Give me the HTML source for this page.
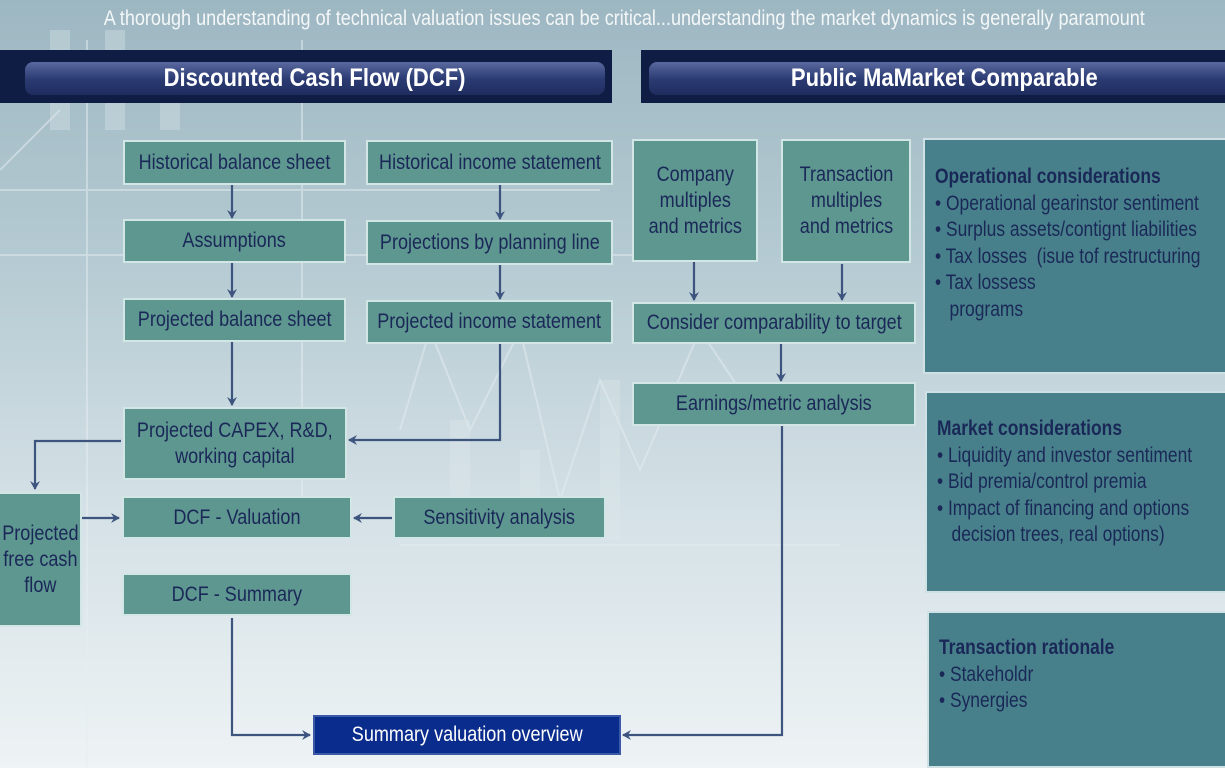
<!DOCTYPE html>
<html style="width:1225px;height:768px;overflow:hidden"><head><meta charset="utf-8"><style>
*{margin:0;padding:0;box-sizing:border-box}
body{width:1225px;height:768px;overflow:hidden;position:relative;font-family:"Liberation Sans",sans-serif;
background:linear-gradient(180deg,#9db7c2 0%,#b6cbd3 35%,#d3e0e5 65%,#eef3f5 100%)}
.b{position:absolute;background:#5e9690;border:2px solid #d3e6e6;color:#1a2858;display:flex;align-items:center;justify-content:center;text-align:center;font-size:21px;line-height:26px}
.b span,.t span{display:inline-block;white-space:nowrap;transform:scaleX(.86)}
.p{position:absolute;background:#47808a;border:2px solid #cfe1e4;color:#1a2858;font-size:21px;line-height:26.5px;padding-left:10px;overflow:hidden}
.p .in{width:420px;transform:scaleX(.83);transform-origin:0 0;white-space:nowrap}
.p h{display:block;font-weight:bold}
.hd{position:absolute;top:50px;height:53px;background:#0f1c44}
.hd div{position:absolute;top:12px;height:33px;background:linear-gradient(180deg,#5a6aa0,#2c3c74 50%,#1e2c5e);border-radius:8px;color:#fff;font-weight:bold;font-size:25px;line-height:33px;text-align:center}
.hd div span{display:inline-block;transform:scaleX(.88)}
svg{position:absolute;left:0;top:0}
</style></head><body>
<svg width="1225" height="768">
<g stroke="#e6eef1" stroke-width="2" fill="none" opacity=".5">
<line x1="0" y1="190" x2="600" y2="190"/><line x1="0" y1="255" x2="640" y2="255"/><line x1="87" y1="40" x2="87" y2="768"/><line x1="302" y1="40" x2="302" y2="500"/><line x1="400" y1="545" x2="840" y2="545"/><line x1="0" y1="170" x2="60" y2="110"/>
<polyline points="400,430 430,330 470,430 520,330 560,500 600,380 640,470 700,330 760,420"/>
</g>
<g fill="#dfe9ec" opacity=".35"><rect x="50" y="30" width="20" height="100"/><rect x="105" y="30" width="20" height="100"/><rect x="160" y="90" width="20" height="40"/><rect x="450" y="420" width="20" height="120"/><rect x="520" y="450" width="20" height="90"/><rect x="600" y="380" width="20" height="160"/></g>
<defs><marker id="a" markerWidth="10" markerHeight="10" refX="8" refY="5" orient="auto" markerUnits="userSpaceOnUse"><path d="M0,0 L9,5 L0,10 L3,5z" fill="#3d557e"/></marker></defs>
<g stroke="#3d557e" stroke-width="2.2" fill="none" marker-end="url(#a)">
<line x1="232" y1="185" x2="232" y2="218"/><line x1="232" y1="263" x2="232" y2="297"/><line x1="232" y1="342" x2="232" y2="405"/>
<line x1="500" y1="185" x2="500" y2="219"/><line x1="500" y1="265" x2="500" y2="299"/>
<polyline points="500,344 500,440 349,440"/>
<polyline points="121,441 35,441 35,489"/>
<line x1="82" y1="518" x2="119" y2="518"/><line x1="392" y1="518" x2="354" y2="518"/>
<polyline points="232,618 232,735 310,735"/>
<polyline points="782,426 782,735 623,735"/>
<line x1="694" y1="262" x2="694" y2="300"/><line x1="842" y1="264" x2="842" y2="300"/><line x1="781" y1="344" x2="781" y2="381"/>
</g>
</svg>
<div class="t" style="position:absolute;top:7px;left:0;width:1248px;text-align:center;color:#f4f7f8;font-size:21px"><span>A thorough understanding of technical valuation issues can be critical...understanding the market dynamics is generally paramount</span></div>
<div class="hd" style="left:0;width:612px"><div style="left:25px;width:580px"><span>Discounted Cash Flow (DCF)</span></div></div>
<div class="hd" style="left:641px;width:584px"><div style="left:8px;width:590px"><span>Public MaMarket Comparable</span></div></div>
<div class="b" style="left:123px;top:140px;width:223px;height:45px"><span>Historical balance sheet</span></div>
<div class="b" style="left:366px;top:140px;width:247px;height:45px"><span>Historical income statement</span></div>
<div class="b" style="left:123px;top:219px;width:223px;height:44px"><span>Assumptions</span></div>
<div class="b" style="left:366px;top:220px;width:247px;height:45px"><span>Projections by planning line</span></div>
<div class="b" style="left:123px;top:298px;width:223px;height:44px"><span>Projected balance sheet</span></div>
<div class="b" style="left:366px;top:300px;width:247px;height:44px"><span>Projected income statement</span></div>
<div class="b" style="left:123px;top:407px;width:224px;height:73px"><span>Projected CAPEX, R&amp;D,<br>working capital</span></div>
<div class="b" style="left:-20px;top:492px;width:102px;height:135px;padding-left:18px"><span>Projected<br>free cash<br>flow</span></div>
<div class="b" style="left:122px;top:496px;width:230px;height:43px"><span>DCF - Valuation</span></div>
<div class="b" style="left:393px;top:496px;width:213px;height:43px"><span>Sensitivity analysis</span></div>
<div class="b" style="left:122px;top:573px;width:230px;height:43px"><span>DCF - Summary</span></div>
<div class="b" style="left:313px;top:715px;width:308px;height:40px;background:#0a2c8c;border-color:#3a5aa8;color:#fff"><span>Summary valuation overview</span></div>
<div class="b" style="left:632px;top:139px;width:126px;height:123px"><span>Company<br>multiples<br>and metrics</span></div>
<div class="b" style="left:781px;top:139px;width:130px;height:124px"><span>Transaction<br>multiples<br>and metrics</span></div>
<div class="b" style="left:632px;top:302px;width:284px;height:42px"><span>Consider comparability to target</span></div>
<div class="b" style="left:632px;top:382px;width:284px;height:44px"><span>Earnings/metric analysis</span></div>
<div class="p" style="left:923px;top:138px;width:310px;height:236px;padding-top:24px"><div class="in"><h>Operational considerations</h>• Operational gearinstor sentiment<br>• Surplus assets/contignt liabilities<br>• Tax losses &nbsp;(isue tof restructuring<br>• Tax lossess<br>&nbsp;&nbsp;&nbsp;programs</div></div>
<div class="p" style="left:925px;top:391px;width:310px;height:202px;padding-top:23px"><div class="in"><h>Market considerations</h>• Liquidity and investor sentiment<br>• Bid premia/control premia<br>• Impact of financing and options<br>&nbsp;&nbsp;&nbsp;decision trees, real options)</div></div>
<div class="p" style="left:927px;top:611px;width:310px;height:157px;padding-top:22px"><div class="in"><h>Transaction rationale</h>• Stakeholdr<br>• Synergies</div></div>
</body></html>
